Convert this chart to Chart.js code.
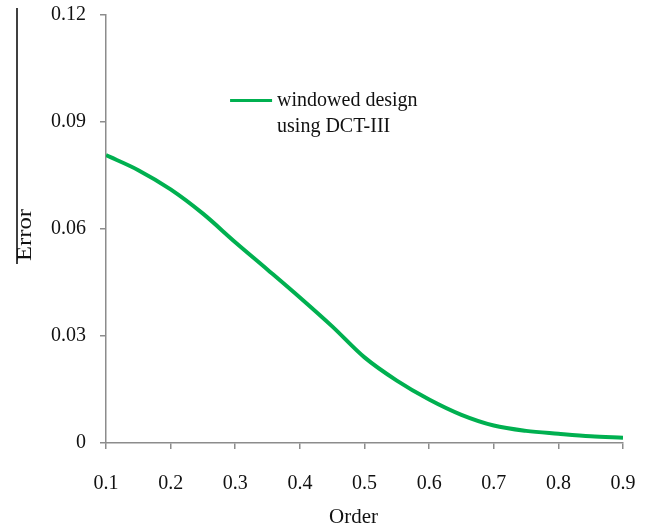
<!DOCTYPE html>
<html>
<head>
<meta charset="utf-8">
<script src="https://cdn.jsdelivr.net/npm/chart.js@4/dist/chart.umd.min.js"></script>
<style>
  html, body { margin: 0; padding: 0; background: #fff; }
  #wrap { width: 653px; height: 528px; }
</style>
</head>
<body>
<div id="wrap"><canvas id="c" width="653" height="528"></canvas></div>
<script>
// Fractional order vs. approximation error
const orders = [0.1, 0.15, 0.2, 0.25, 0.3, 0.35, 0.4, 0.45, 0.5, 0.55, 0.6, 0.65, 0.7, 0.75, 0.8, 0.85, 0.9];
const errors = [0.0807, 0.0765, 0.0711, 0.0643, 0.0563, 0.0486, 0.0408, 0.0327, 0.0240, 0.0175, 0.0122, 0.0079, 0.0049, 0.0034, 0.0026, 0.0019, 0.0015];
const xTicks = [0.1, 0.2, 0.3, 0.4, 0.5, 0.6, 0.7, 0.8, 0.9];
const yTicks = [0, 0.03, 0.06, 0.09, 0.12];
const seriesLabel = ['windowed design', 'using DCT-III'];
const xTitle = 'Order';
const yTitle = 'Error';

const serif = '"Liberation Serif", "Times New Roman", serif';
const axisGrey = '#8c8c8c';
const lineGreen = '#00b050';

// Legend drawn inside the plot area, two-line label beside a short line sample
const innerLegend = {
  id: 'innerLegend',
  afterDatasetsDraw(chart) {
    const { ctx, chartArea: a } = chart;
    const ds = chart.data.datasets[0];
    const x0 = a.left + (a.right - a.left) * 0.24;
    const y0 = a.top + (a.bottom - a.top) * 0.2;
    ctx.save();
    ctx.strokeStyle = ds.borderColor;
    ctx.lineWidth = 3;
    ctx.beginPath();
    ctx.moveTo(x0, y0);
    ctx.lineTo(x0 + 42, y0);
    ctx.stroke();
    ctx.fillStyle = '#111';
    ctx.font = '20px ' + serif;
    ctx.textBaseline = 'middle';
    ctx.textAlign = 'left';
    seriesLabel.forEach((t, i) => ctx.fillText(t, x0 + 47, y0 + i * 26));
    ctx.restore();
  }
};

// Axis titles: rotated y title with a rule running up beside it, x title below the labels
const axisTitles = {
  id: 'axisTitles',
  afterDraw(chart) {
    const { ctx, chartArea: a } = chart;
    const left = chart.scales.y.left;
    ctx.save();
    ctx.strokeStyle = '#000';
    ctx.lineWidth = 1.5;
    ctx.beginPath();
    ctx.moveTo(left + 17, a.top - 7);
    ctx.lineTo(left + 17, a.top + 249);
    ctx.stroke();
    ctx.fillStyle = '#111';
    ctx.textAlign = 'center';
    ctx.textBaseline = 'middle';

    ctx.save();
    ctx.translate(left + 25, a.top + 220);
    ctx.rotate(-Math.PI / 2);
    ctx.scale(1.12, 1);
    ctx.font = '22px ' + serif;
    ctx.fillText(yTitle, 0, 0);
    ctx.restore();

    ctx.font = '21px ' + serif;
    ctx.fillText(xTitle, (a.left + a.right) / 2 - 11, chart.scales.x.bottom - 11);
    ctx.restore();
  }
};

new Chart(document.getElementById('c'), {
  type: 'line',
  data: {
    datasets: [{
      label: seriesLabel.join(' '),
      data: orders.map((o, i) => ({ x: o, y: errors[i] })),
      borderColor: lineGreen,
      backgroundColor: lineGreen,
      borderWidth: 4,
      pointRadius: 0,
      cubicInterpolationMode: 'monotone',
      fill: false
    }]
  },
  options: {
    responsive: false,
    animation: false,
    events: [],
    layout: { padding: { top: 15, right: 30, bottom: 0, left: 0 }, autoPadding: false },
    plugins: { legend: { display: false }, tooltip: { enabled: false } },
    scales: {
      x: {
        type: 'linear',
        min: 0.1, max: 0.9,
        afterBuildTicks(s) { s.ticks = xTicks.map(v => ({ value: v })); },
        afterFit(s) { s.height = 85; s.paddingLeft = 0; s.paddingRight = 0; },
        border: { color: axisGrey, width: 1.5 },
        grid: { drawOnChartArea: false, drawTicks: true, tickLength: 6, color: axisGrey, lineWidth: 1.5 },
        ticks: {
          color: '#111', padding: 23, maxRotation: 0,
          font: { family: serif, size: 20 },
          callback: v => Number(v).toFixed(1)
        },
        title: { display: false }
      },
      y: {
        min: 0, max: 0.12,
        afterBuildTicks(s) { s.ticks = yTicks.map(v => ({ value: v })); },
        afterFit(s) { s.width = 106; s.paddingTop = 0; s.paddingBottom = 0; },
        border: { color: axisGrey, width: 1.5 },
        grid: { drawOnChartArea: false, drawTicks: true, tickLength: 6, color: axisGrey, lineWidth: 1.5 },
        ticks: {
          color: '#111', padding: 14,
          font: { family: serif, size: 20 },
          callback: v => (v === 0 ? '0' : Number(v).toFixed(2))
        },
        title: { display: false }
      }
    }
  },
  plugins: [innerLegend, axisTitles]
});
</script>
</body>
</html>
